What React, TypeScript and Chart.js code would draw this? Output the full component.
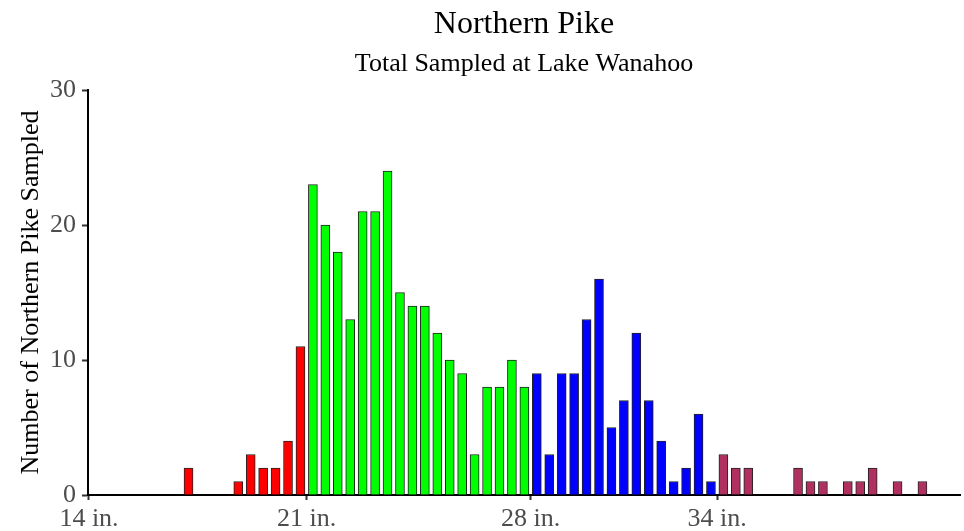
import React, { useEffect, useRef } from "react";
import { Chart, registerables } from "chart.js";

Chart.register(...registerables);

// Length bins (cm, bin centres) and counts for each size group
const redLengthsCm = [43.5, 47.5, 48.5, 49.5, 50.5, 51.5, 52.5];
const redCounts = [2, 1, 3, 2, 2, 4, 11];

const greenLengthsCm = [53.5, 54.5, 55.5, 56.5, 57.5, 58.5, 59.5, 60.5, 61.5, 62.5, 63.5, 64.5, 65.5, 66.5, 67.5, 68.5, 69.5, 70.5];
const greenCounts = [23, 20, 18, 13, 21, 21, 24, 15, 14, 14, 12, 10, 9, 3, 8, 8, 10, 8];

const blueLengthsCm = [71.5, 72.5, 73.5, 74.5, 75.5, 76.5, 77.5, 78.5, 79.5, 80.5, 81.5, 82.5, 83.5, 84.5, 85.5];
const blueCounts = [9, 3, 9, 9, 13, 16, 5, 7, 12, 7, 4, 1, 2, 6, 1];

const maroonLengthsCm = [86.5, 87.5, 88.5, 92.5, 93.5, 94.5, 96.5, 97.5, 98.5, 100.5, 102.5];
const maroonCounts = [3, 2, 2, 2, 1, 1, 1, 1, 2, 1, 1];

const xTickValuesCm = [35.5, 53, 71, 86];
const xTickLabels = ["14 in.", "21 in.", "28 in.", "34 in."];
const yTickValues = [0, 10, 20, 30];

const FONT = "'Liberation Serif', 'Times New Roman', 'DejaVu Serif', serif";

export default function App() {
  const ref = useRef<HTMLCanvasElement>(null);

  useEffect(() => {
    if (!ref.current) return;
    const toPoints = (xs: number[], ys: number[]) => xs.map((x, i) => ({ x, y: ys[i] }));
    const mk = (xs: number[], ys: number[], color: string) => ({
      data: toPoints(xs, ys),
      backgroundColor: color,
      borderColor: "#222222",
      borderWidth: 1,
      barThickness: 9,
      grouped: false,
    });

    const chart = new Chart(ref.current, {
      type: "bar",
      data: {
        datasets: [
          mk(redLengthsCm, redCounts, "#FF0000"),
          mk(greenLengthsCm, greenCounts, "#00FF00"),
          mk(blueLengthsCm, blueCounts, "#0000FF"),
          mk(maroonLengthsCm, maroonCounts, "#B03060"),
        ] as any,
      },
      options: {
        animation: false,
        responsive: false,
        devicePixelRatio: 1,
        layout: { padding: { left: 0, right: 4, top: 0, bottom: 0 } },
        plugins: {
          legend: { display: false },
          tooltip: { enabled: false },
          title: {
            display: true,
            text: "Northern Pike",
            color: "#000",
            fullSize: false,
            font: { family: FONT, size: 32, weight: "normal" },
            padding: { top: 5, bottom: 0 },
          },
          subtitle: {
            display: true,
            text: "Total Sampled at Lake Wanahoo",
            color: "#000",
            fullSize: false,
            font: { family: FONT, size: 26, weight: "normal" },
            padding: { top: 5, bottom: 10.4 },
          },
        },
        scales: {
          x: {
            type: "linear",
            min: 35.42,
            max: 105.52,
            offset: false,
            grid: {
              display: true,
              drawOnChartArea: false,
              drawTicks: true,
              tickLength: 5,
              tickColor: "#333",
              tickWidth: 2,
              offset: false,
            },
            border: { display: true, color: "#000", width: 2 },
            afterBuildTicks: (scale: any) => {
              scale.ticks = xTickValuesCm.map((v) => ({ value: v }));
            },
            afterFit: (scale: any) => {
              scale.height = 36;
            },
            ticks: {
              autoSkip: false,
              maxRotation: 0,
              color: "#4d4d4d",
              padding: 4,
              font: { family: FONT, size: 26 },
              callback: (_v: any, index: number) => xTickLabels[index],
            },
          },
          y: {
            type: "linear",
            min: 0,
            max: 30,
            grid: {
              display: true,
              drawOnChartArea: false,
              drawTicks: true,
              tickLength: 6,
              tickColor: "#333",
              tickWidth: 2,
            },
            border: { display: true, color: "#000", width: 2 },
            afterBuildTicks: (scale: any) => {
              scale.ticks = yTickValues.map((v) => ({ value: v }));
            },
            afterFit: (scale: any) => {
              scale.width = 88;
            },
            ticks: {
              color: "#4d4d4d",
              padding: 6,
              font: { family: FONT, size: 26 },
              callback: (v: any) => String(v),
            },
            title: {
              display: true,
              text: "Number of Northern Pike Sampled",
              color: "#000",
              font: { family: FONT, size: 26 },
              padding: { top: 16, bottom: 0 },
            },
          },
        },
      } as any,
    });
    return () => chart.destroy();
  }, []);

  return (
    <div style={{ position: "fixed", left: 0, top: 0, width: 964, height: 531, background: "#fff" }}>
      <canvas ref={ref} width={964} height={531} style={{ display: "block", width: 964, height: 531 }} />
    </div>
  );
}
